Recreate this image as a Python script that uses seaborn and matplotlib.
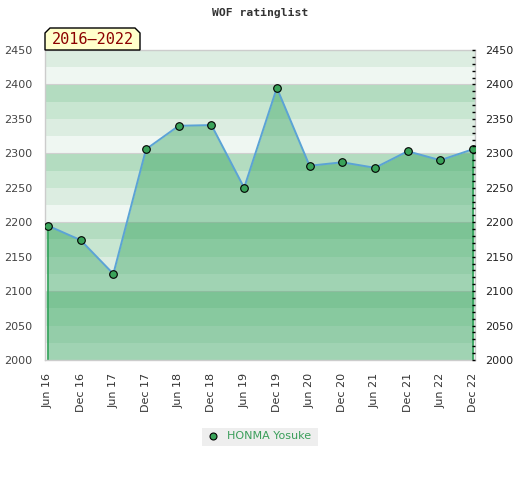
import numpy as np
import pandas as pd
import seaborn as sns
import matplotlib.pyplot as plt
from matplotlib.patches import Polygon, Rectangle
from matplotlib.ticker import MultipleLocator
from matplotlib.lines import Line2D

periods = ['Jun 16', 'Dec 16', 'Jun 17', 'Dec 17', 'Jun 18', 'Dec 18', 'Jun 19',
           'Dec 19', 'Jun 20', 'Dec 20', 'Jun 21', 'Dec 21', 'Jun 22', 'Dec 22']
rating = [2195, 2174, 2125, 2306, 2340, 2341, 2250,
          2395, 2282, 2287, 2279, 2303, 2290, 2306]
player = 'HONMA Yosuke'
span_label = '2016\u20132022'
title = 'WOF ratinglist'

df = pd.DataFrame({'idx': np.arange(len(periods)), 'rating': rating})

sns.set_style('white')
plt.rcParams['font.family'] = ['DejaVu Sans']

fig = plt.figure(figsize=(5.2, 4.8), dpi=100)
ax = fig.add_axes([45 / 520, 120 / 480, 430 / 520, 310 / 480])

ymin, ymax = 2000, 2450
# lightest at the bottom of each 100 block, darkest at the top
band_cols = ['#eff7f2', '#dcede1', '#c8e6d1', '#b3dcc0']
for lo in range(ymin, ymax, 25):
    ax.axhspan(lo, lo + 25, color=band_cols[((lo - ymin) // 25) % 4], lw=0, zorder=0)
for g in range(ymin + 100, ymax, 100):
    ax.axhline(g, color='#d0d0d0', lw=0.8, zorder=0.5)

ax.fill_between(df['idx'], ymin, df['rating'], color='#2a9e55', alpha=0.4, lw=0, zorder=1)
ax.vlines([df['idx'].iloc[0], df['idx'].iloc[-1]], ymin,
          [df['rating'].iloc[0], df['rating'].iloc[-1]], color='#2ea057', lw=1.2, zorder=2)
sns.lineplot(data=df, x='idx', y='rating', ax=ax, color='#5ba3d6', lw=1.4, zorder=3)
sns.scatterplot(data=df, x='idx', y='rating', ax=ax, color='#3aa35a', edgecolor='black',
                s=30, linewidth=0.8, zorder=4)

ax.set_xlim(-0.09, 13.06)
ax.set_ylim(ymin, ymax)
ax.set_xlabel('')
ax.set_ylabel('')
ax.set_xticks(df['idx'])
ax.set_xticklabels(periods, rotation=90, fontsize=8, color='#333333')
ax.yaxis.set_major_locator(MultipleLocator(50))
ax.tick_params(axis='y', length=0, labelsize=8, labelcolor='#444444', pad=9)
ax.tick_params(axis='x', length=0, pad=9)
for s in ax.spines.values():
    s.set_color('#cccccc')
    s.set_linewidth(1)

ax2 = ax.twinx()
ax2.set_ylim(ymin, ymax)
ax2.yaxis.set_major_locator(MultipleLocator(50))
ax2.yaxis.set_minor_locator(MultipleLocator(10))
ax2.tick_params(axis='y', which='both', direction='in', length=2.5, width=1, color='black',
                labelsize=8, labelcolor='#222222', pad=7)
for s in ax2.spines.values():
    s.set_visible(False)

fig.text(0.5, 1 - 13 / 480, title, ha='center', va='center', family='DejaVu Sans Mono',
         fontweight='bold', fontsize=8.2, color='#333333')

# label tab above plot
bx0, bx1, by0, by1, c = 45, 140, 480 - 50, 480 - 28, 5
tab = Polygon([(bx0, by0), (bx0, by1 - c), (bx0 + c, by1), (bx1 - c, by1), (bx1, by1 - c), (bx1, by0)],
              closed=True, facecolor='#ffffcc', edgecolor='black', lw=1,
              transform=None, zorder=5)
fig.patches.append(tab)
fig.text((bx0 + bx1) / 2 / 520, (by0 + by1) / 2 / 480 - 0.001, span_label, ha='center', va='center',
         family='DejaVu Sans Mono', fontsize=11, color='#8b0000', zorder=6)

# legend
fig.patches.append(Rectangle((202, 480 - 446), 116, 18, transform=None,
                             facecolor='#eeeeee', edgecolor='none'))
fig.lines.append(Line2D([213 / 520], [1 - 436 / 480], transform=fig.transFigure, marker='o',
                        ms=5, mfc='#3aa35a', mec='black', mew=0.8, ls='none'))
fig.text(227 / 520, 1 - 436 / 480, player, ha='left', va='center', fontsize=8, color='#3a9e5a')

fig.savefig('out.png', dpi=100)
